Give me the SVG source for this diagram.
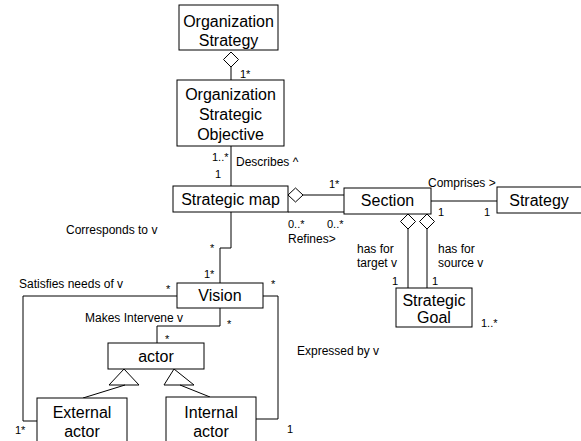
<svg xmlns="http://www.w3.org/2000/svg" width="581" height="441" viewBox="0 0 581 441">
<style>
.box{fill:#fff;stroke:#000;stroke-width:1}
.ln{fill:none;stroke:#000;stroke-width:1}
.dia{fill:#fff;stroke:#000;stroke-width:1}
.t{font-family:"Liberation Sans",Arial,sans-serif;font-size:16px;fill:#000;text-anchor:middle}
.l{font-family:"Liberation Sans",Arial,sans-serif;font-size:12px;fill:#000}
.m{font-family:"Liberation Sans",Arial,sans-serif;font-size:11px;fill:#000}
</style>
<rect width="581" height="441" fill="#fff"/>
<g id="connectors">
<line class="ln" x1="231" y1="67" x2="231" y2="80"/>
<polygon class="dia" points="231,52 238.5,59.5 231,67 223.5,59.5"/>
<line class="ln" x1="231" y1="146" x2="231" y2="186"/>
<line class="ln" x1="303" y1="195" x2="344" y2="195"/>
<polygon class="dia" points="288,195 295.5,188 303,195 295.5,202"/>
<line class="ln" x1="288" y1="212" x2="344" y2="212"/>
<line class="ln" x1="431" y1="201" x2="497" y2="201"/>
<polyline class="ln" points="231,212 231,248 220,248 220,283"/>
<line class="ln" x1="408" y1="229" x2="408" y2="288"/>
<line class="ln" x1="427" y1="229" x2="427" y2="288"/>
<polygon class="dia" points="408,214 415.5,221.5 408,229 400.5,221.5"/>
<polygon class="dia" points="427,214 434.5,221.5 427,229 419.5,221.5"/>
<polyline class="ln" points="177,296 23,296 23,421 37,421"/>
<polyline class="ln" points="263,296 278,296 278,419 256,419"/>
<polyline class="ln" points="220,308 220,326 157,326 157,343"/>
<polygon class="dia" points="124,369 139,385 109,385"/>
<polygon class="dia" points="174,369 194,385 164,385"/>
<line class="ln" x1="125" y1="385" x2="83" y2="398"/>
<line class="ln" x1="180" y1="385" x2="210" y2="397"/>
</g>
<g id="labels">
<text class="m" x="240" y="78">1*</text>
<text class="m" x="212" y="161">1..*</text>
<text class="m" x="215" y="178">1</text>
<text class="l" x="236" y="166">Describes ^</text>
<text class="m" x="329" y="188">1*</text>
<text class="m" x="288" y="228">0..*</text>
<text class="m" x="327" y="228">0..*</text>
<text class="l" x="288" y="243">Refines&gt;</text>
<text class="l" x="428" y="187">Comprises &gt;</text>
<text class="m" x="438" y="216">1</text>
<text class="m" x="484" y="216">1</text>
<text class="l" x="66" y="234">Corresponds to v</text>
<text class="m" x="210" y="252">*</text>
<text class="m" x="204" y="278">1*</text>
<text class="l" x="357" y="253">has for</text>
<text class="l" x="357" y="267">target v</text>
<text class="l" x="438" y="253">has for</text>
<text class="l" x="438" y="267">source v</text>
<text class="m" x="392" y="285">1</text>
<text class="m" x="432" y="285">1</text>
<text class="m" x="481" y="327">1..*</text>
<text class="l" x="19" y="288">Satisfies needs of v</text>
<text class="m" x="166" y="293">*</text>
<text class="m" x="271" y="288">*</text>
<text class="l" x="85" y="322">Makes Intervene v</text>
<text class="m" x="227" y="328">*</text>
<text class="m" x="165" y="343">*</text>
<text class="l" x="297" y="355">Expressed by v</text>
<text class="m" x="15" y="434">1*</text>
<text class="m" x="287" y="433">1</text>
</g>
<g id="org-strategy">
<rect class="box" x="179" y="5" width="99" height="45"/>
<text class="t" x="228.5" y="27">Organization</text>
<text class="t" x="228.5" y="46">Strategy</text>
</g>
<g id="org-strategic-objective">
<rect class="box" x="177" y="80" width="107" height="66"/>
<text class="t" x="230.5" y="100">Organization</text>
<text class="t" x="230.5" y="120">Strategic</text>
<text class="t" x="230.5" y="140">Objective</text>
</g>
<g id="strategic-map">
<rect class="box" x="173" y="186" width="115" height="26"/>
<text class="t" x="230.5" y="205">Strategic map</text>
</g>
<g id="section">
<rect class="box" x="344" y="188" width="87" height="26"/>
<text class="t" x="387.5" y="206">Section</text>
</g>
<g id="strategy">
<rect class="box" x="497" y="187" width="86" height="26"/>
<text class="t" x="539" y="206">Strategy</text>
</g>
<g id="strategic-goal">
<rect class="box" x="396" y="288" width="76" height="39"/>
<text class="t" x="434" y="306">Strategic</text>
<text class="t" x="434" y="323">Goal</text>
</g>
<g id="vision">
<rect class="box" x="177" y="283" width="86" height="25"/>
<text class="t" x="220" y="301">Vision</text>
</g>
<g id="actor">
<rect class="box" x="108" y="343" width="96" height="26"/>
<text class="t" x="156" y="362">actor</text>
</g>
<g id="external-actor">
<rect class="box" x="37" y="398" width="90" height="50"/>
<text class="t" x="82" y="418">External</text>
<text class="t" x="82" y="437">actor</text>
</g>
<g id="internal-actor">
<rect class="box" x="166" y="397" width="90" height="50"/>
<text class="t" x="211" y="418">Internal</text>
<text class="t" x="211" y="437">actor</text>
</g>
</svg>
